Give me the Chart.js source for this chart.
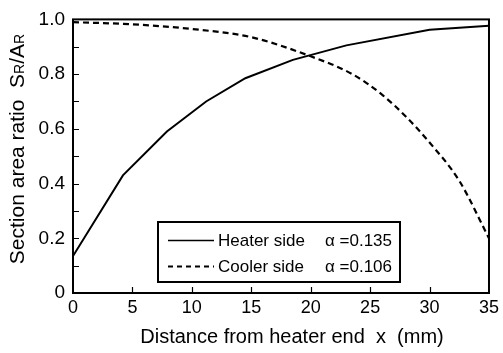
<!DOCTYPE html>
<html>
<head>
<meta charset="utf-8">
<script src="https://cdn.jsdelivr.net/npm/chart.js@4/dist/chart.umd.min.js"></script>
<style>
  html, body { margin: 0; padding: 0; background: #fff; }
  #wrap { width: 503px; height: 353px; }
</style>
</head>
<body>
<div id="wrap"><canvas id="c" width="503" height="353"></canvas></div>
<script>
// ---- data ----
const heaterX = [0, 4.2, 7.9, 11.2, 14.5, 18.5, 23, 30, 35];
const heaterY = [0.135, 0.43, 0.59, 0.70, 0.785, 0.852, 0.905, 0.962, 0.977];
const coolerX = [0, 5, 10, 15, 20, 23.5, 26, 28, 30, 32.5, 35];
const coolerY = [0.99, 0.982, 0.965, 0.935, 0.865, 0.80, 0.725, 0.645, 0.55, 0.41, 0.20];
const xTicks = [0, 5, 10, 15, 20, 25, 30, 35];
const yTicks = [0, 0.1, 0.2, 0.3, 0.4, 0.5, 0.6, 0.7, 0.8, 0.9, 1.0];
const seriesNames = ['Heater side', 'Cooler side'];
const seriesAlpha = ['α =0.135', 'α =0.106'];
const xTitle = 'Distance from heater end  x  (mm)';
const yTitle = 'Section area ratio  ';

const FONT = '"Liberation Sans", Arial, Helvetica, sans-serif';

function pts(xs, ys) { return xs.map((x, i) => ({ x: x, y: ys[i] })); }

const framePlugin = {
  id: 'frame',
  beforeDraw(chart) {
    const ctx = chart.ctx;
    ctx.save();
    ctx.fillStyle = '#fff';
    ctx.fillRect(0, 0, chart.width, chart.height);
    ctx.restore();
  },
  afterDraw(chart) {
    const ctx = chart.ctx;
    const a = chart.chartArea;
    const xs = chart.scales.x, ys = chart.scales.y;
    ctx.save();
    ctx.strokeStyle = '#000';
    ctx.lineWidth = 2;
    ctx.strokeRect(a.left, a.top, a.right - a.left, a.bottom - a.top);
    // inward ticks
    ctx.lineWidth = 1.2;
    ctx.beginPath();
    xTicks.forEach(v => {
      if (v <= xs.min || v >= xs.max) return;
      const px = Math.round(xs.getPixelForValue(v)) + 0.5;
      ctx.moveTo(px, a.bottom);
      ctx.lineTo(px, a.bottom - 6);
    });
    yTicks.forEach(v => {
      if (v <= ys.min || v >= ys.max) return;
      const py = Math.round(ys.getPixelForValue(v)) + 0.5;
      ctx.moveTo(a.left, py);
      ctx.lineTo(a.left + 6, py);
    });
    ctx.stroke();

    // legend
    const lx = 158, ly = 222, lw = 242, lh = 60;
    ctx.fillStyle = '#fff';
    ctx.fillRect(lx, ly, lw, lh);
    ctx.lineWidth = 2;
    ctx.strokeRect(lx, ly, lw, lh);
    const rows = [240, 266];
    const dashes = [[], [5, 4]];
    ctx.font = '17px ' + FONT;
    ctx.fillStyle = '#000';
    ctx.textBaseline = 'middle';
    ctx.textAlign = 'left';
    rows.forEach((ry, i) => {
      ctx.save();
      ctx.lineWidth = i === 0 ? 1.5 : 1.8;
      ctx.setLineDash(dashes[i]);
      ctx.beginPath();
      ctx.moveTo(168, ry + 0.5);
      ctx.lineTo(214, ry + 0.5);
      ctx.stroke();
      ctx.restore();
      ctx.fillText(seriesNames[i], 218, ry + 1);
      ctx.fillText(seriesAlpha[i], 325, ry + 1);
    });

    // x title
    ctx.font = '20px ' + FONT;
    ctx.textAlign = 'center';
    ctx.textBaseline = 'middle';
    ctx.fillText(xTitle, 292, 337);

    // y title (rotated, with small-capital R)
    const big = '21px ' + FONT, small = '14px ' + FONT;
    const parts = [[yTitle, big], ['S', big], ['R', small], ['/', big], ['A', big], ['R', small]];
    ctx.save();
    ctx.translate(16, 149);
    ctx.rotate(-Math.PI / 2);
    ctx.textAlign = 'left';
    ctx.textBaseline = 'alphabetic';
    let total = 0;
    parts.forEach(p => { ctx.font = p[1]; total += ctx.measureText(p[0]).width; });
    let cx = -total / 2;
    parts.forEach(p => {
      ctx.font = p[1];
      ctx.fillText(p[0], cx, 7.5);
      cx += ctx.measureText(p[0]).width;
    });
    ctx.restore();
    ctx.restore();
  }
};

new Chart(document.getElementById('c'), {
  type: 'line',
  data: {
    datasets: [
      {
        label: seriesNames[0],
        data: pts(heaterX, heaterY),
        borderColor: '#000',
        borderWidth: 2,
        pointRadius: 0,
        tension: 0,
        fill: false
      },
      {
        label: seriesNames[1],
        data: pts(coolerX, coolerY),
        borderColor: '#000',
        borderWidth: 2.2,
        borderDash: [6, 4],
        pointRadius: 0,
        cubicInterpolationMode: 'monotone',
        fill: false
      }
    ]
  },
  options: {
    responsive: false,
    animation: false,
    devicePixelRatio: 1,
    layout: { padding: { top: 15, right: 13, left: 0, bottom: 0 } },
    plugins: { legend: { display: false }, tooltip: { enabled: false } },
    scales: {
      x: {
        type: 'linear',
        min: 0, max: 35,
        afterFit(s) { s.height = 60; },
        afterBuildTicks(s) { s.ticks = xTicks.map(v => ({ value: v })); },
        grid: { display: false, drawTicks: false },
        border: { display: false },
        ticks: {
          color: '#000',
          font: { family: FONT, size: 18 },
          padding: 4,
          maxRotation: 0,
          autoSkip: false,
          callback: v => String(v)
        }
      },
      y: {
        type: 'linear',
        min: 0, max: 1,
        afterFit(s) { s.width = 73; },
        afterBuildTicks(s) { s.ticks = yTicks.filter((v, i) => i % 2 === 0).map(v => ({ value: v })); },
        grid: { display: false, drawTicks: false },
        border: { display: false },
        ticks: {
          color: '#000',
          font: { family: FONT, size: 19 },
          padding: 8,
          autoSkip: false,
          callback: v => (v === 0 ? '0' : Number(v).toFixed(1))
        }
      }
    }
  },
  plugins: [framePlugin]
});
</script>
</body>
</html>
